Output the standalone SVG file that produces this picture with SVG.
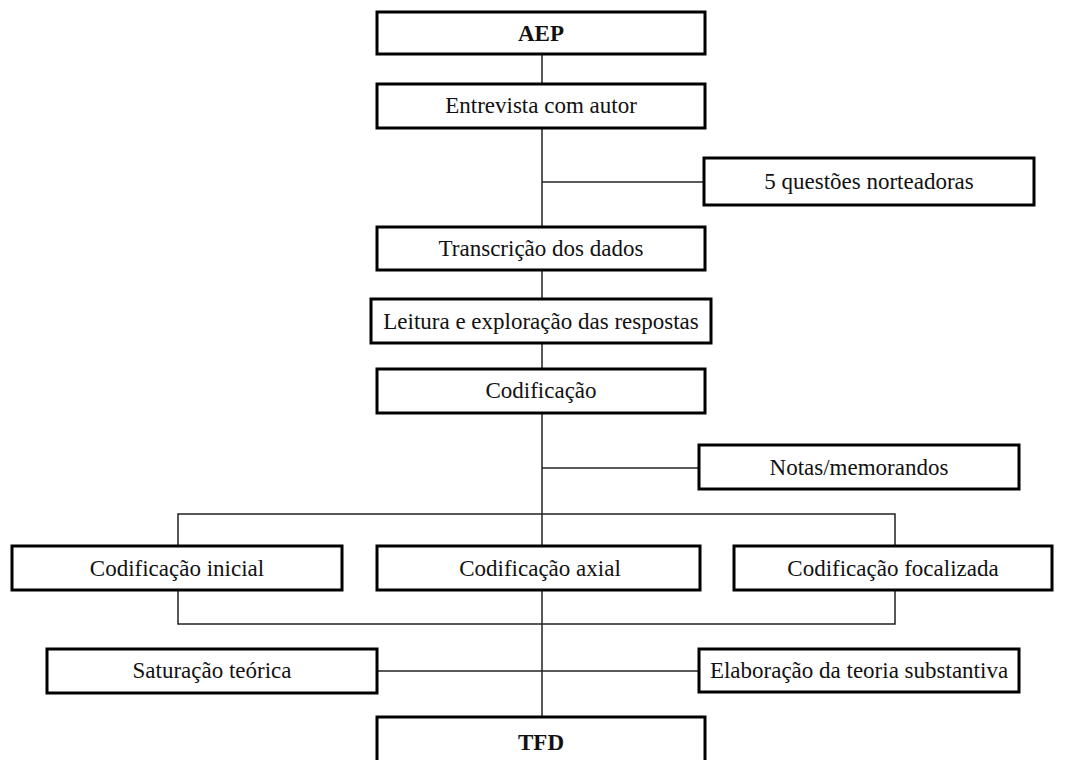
<svg xmlns="http://www.w3.org/2000/svg" width="1072" height="760" viewBox="0 0 1072 760">
  <style>
    .box { fill: #ffffff; stroke: #000000; stroke-width: 3; }
    .lbl { font-family: "Liberation Serif", "Times New Roman", serif; font-size: 23px; fill: #111111; text-anchor: middle; }
    .bold { font-weight: bold; }
    .wire { fill: none; stroke: #222222; stroke-width: 1.5; }
  </style>
  <rect width="1072" height="760" fill="#ffffff"/>

  <!-- connectors -->
  <g id="connectors">
    <path class="wire" d="M542 54 V83"/>
    <path class="wire" d="M542 128 V226"/>
    <path class="wire" d="M542 182 H703"/>
    <path class="wire" d="M542 270 V299"/>
    <path class="wire" d="M542 343 V368"/>
    <path class="wire" d="M542 413 V545"/>
    <path class="wire" d="M542 468 H698"/>
    <path class="wire" d="M178 545 V514 H895 V545"/>
    <path class="wire" d="M178 591 V624 H895 V591"/>
    <path class="wire" d="M542 591 V716"/>
    <path class="wire" d="M378 671 H698"/>
  </g>

  <g id="aep">
    <rect class="box" x="377" y="12" width="328" height="42"/>
    <text class="lbl bold" x="541" y="41">AEP</text>
  </g>
  <g id="entrevista">
    <rect class="box" x="377" y="84" width="328" height="44"/>
    <text class="lbl" x="541" y="113">Entrevista com autor</text>
  </g>
  <g id="questoes">
    <rect class="box" x="704" y="158" width="330" height="47"/>
    <text class="lbl" x="869" y="189">5 questões norteadoras</text>
  </g>
  <g id="transcricao">
    <rect class="box" x="377" y="227" width="328" height="43"/>
    <text class="lbl" x="541" y="256">Transcrição dos dados</text>
  </g>
  <g id="leitura">
    <rect class="box" x="371" y="299" width="340" height="44"/>
    <text class="lbl" x="541" y="329">Leitura e exploração das respostas</text>
  </g>
  <g id="codificacao">
    <rect class="box" x="377" y="369" width="328" height="44"/>
    <text class="lbl" x="541" y="398">Codificação</text>
  </g>
  <g id="notas">
    <rect class="box" x="699" y="445" width="320" height="44"/>
    <text class="lbl" x="859" y="475">Notas/memorandos</text>
  </g>
  <g id="cod-inicial">
    <rect class="box" x="12" y="546" width="330" height="44"/>
    <text class="lbl" x="177" y="576">Codificação inicial</text>
  </g>
  <g id="cod-axial">
    <rect class="box" x="377" y="546" width="323" height="44"/>
    <text class="lbl" x="540" y="576">Codificação axial</text>
  </g>
  <g id="cod-focalizada">
    <rect class="box" x="734" y="546" width="318" height="44"/>
    <text class="lbl" x="893" y="576">Codificação focalizada</text>
  </g>
  <g id="saturacao">
    <rect class="box" x="47" y="649" width="330" height="44"/>
    <text class="lbl" x="212" y="678">Saturação teórica</text>
  </g>
  <g id="elaboracao">
    <rect class="box" x="699" y="649" width="320" height="43"/>
    <text class="lbl" x="859" y="678">Elaboração da teoria substantiva</text>
  </g>
  <g id="tfd">
    <rect class="box" x="377" y="717" width="328" height="46"/>
    <text class="lbl bold" x="541" y="750">TFD</text>
  </g>
</svg>
